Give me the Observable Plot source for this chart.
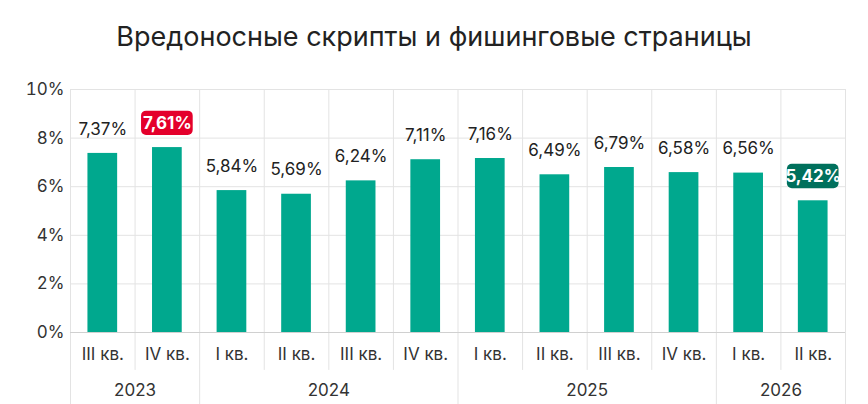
<!DOCTYPE html>
<html><head><meta charset="utf-8">
<script src="https://cdn.jsdelivr.net/npm/d3@7"></script>
<script src="https://cdn.jsdelivr.net/npm/@observablehq/plot@0.6"></script>
<style>
body{margin:0;background:#fff;font-family:Inter,"Noto Sans",sans-serif;}
#t{height:70px;display:flex;align-items:center;justify-content:center;font-size:27px;color:#222;padding-top:2px;box-sizing:border-box}
</style></head><body>
<div id="t">Вредоносные скрипты и фишинговые страницы</div>
<div id="c"></div>
<script>
const quarters=["III кв.","IV кв.","I кв.","II кв.","III кв.","IV кв.","I кв.","II кв.","III кв.","IV кв.","I кв.","II кв."];
const values=[7.37,7.61,5.84,5.69,6.24,7.11,7.16,6.49,6.79,6.58,6.56,5.42];
const years=["2023","2024","2025","2026"];
const yearStart=[0,2,6,10];
const yearEnd=[1,5,9,11];
const highlight={1:"#e4002b",11:"#00705c"};
const data=values.map((v,i)=>({i,v,q:quarters[i]}));
const fmt=v=>v.toFixed(2).replace(".",",")+"%";
const bounds=d3.range(-0.5,12,1);
const yb=[-0.5,1.5,5.5,9.5,11.5];
const plain=data.filter(d=>!highlight[d.i]);
const hl=data.filter(d=>highlight[d.i]);
const chart=Plot.plot({
  width:868,height:334,marginTop:19,marginBottom:72,marginLeft:70,marginRight:23,
  style:{fontFamily:"Inter, 'Noto Sans', sans-serif",fontSize:"17px",color:"#333",overflow:"visible"},
  x:{domain:[-0.5,11.5],axis:null},
  y:{domain:[0,10],ticks:[0,2,4,6,8,10],tickFormat:d=>d+"%",tickSize:0,tickPadding:6,label:null},
  marks:[
    Plot.ruleY([2,4,6,8,10],{stroke:"#e3e3e3"}),
    Plot.ruleX(bounds,{y1:-1.56,y2:10,stroke:"#e3e3e3",clip:false}),
    Plot.ruleX(yb,{y1:-1.56,y2:-3,stroke:"#e3e3e3",clip:false}),
    Plot.ruleY([0],{stroke:"#d0d0d0"}),
    Plot.rectY(data,{x1:d=>d.i-0.23,x2:d=>d.i+0.23,y1:0,y2:"v",fill:"#00a88e"}),
    Plot.text(plain,{x:"i",y:d=>d.v+1,text:d=>fmt(d.v),fontSize:17,fill:"#222"}),
    Plot.rect(hl,{x1:d=>d.i-0.4,x2:d=>d.i+0.4,y1:d=>d.v+0.5,y2:d=>d.v+1.5,fill:d=>highlight[d.i],rx:5}),
    Plot.text(hl,{x:"i",y:d=>d.v+1,text:d=>fmt(d.v),fontSize:17,fontWeight:"bold",fill:"white"}),
    Plot.text(data,{x:"i",y:-0.9,text:"q",fontSize:17,fill:"#333",clip:false}),
    Plot.text(years,{x:(d,k)=>(yearStart[k]+yearEnd[k])/2,y:-2.4,text:d=>d,fontSize:17,fill:"#333",clip:false})
  ]
});
document.getElementById("c").append(chart);
</script></body></html>
